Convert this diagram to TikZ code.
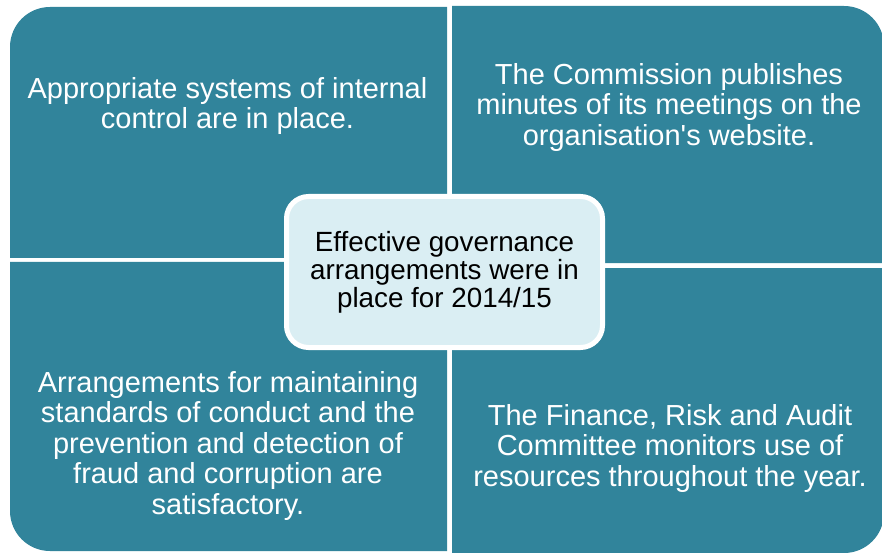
\documentclass[tikz,border=0pt]{standalone}
\usepackage{fontspec}
% plain family: keeps the straight apostrophe
\newfontfamily\arialfont{Liberation Sans}
\definecolor{quadteal}{HTML}{31849B}
\definecolor{hubfill}{HTML}{DAEEF3}
\begin{document}
\begin{tikzpicture}[x=1pt,y=1pt,
  quadrant/.style={fill=quadteal},
  quadtext/.style={text=white,align=center,inner sep=0pt,
    font=\arialfont\fontsize{29}{30.5}\selectfont},
  hub/.style={rectangle,rounded corners=22pt,draw=white,line width=5pt,
    fill=hubfill,minimum width=316pt,minimum height=151pt,inner sep=0pt,
    align=center,text=black,font=\arialfont\fontsize{27.8}{28}\selectfont}]
\useasboundingbox (0,0) rectangle (882,552);
\clip (0,0) rectangle (882,552);

% four quadrants, each rounded at its outer corner
\path[quadrant] (447,294) -- (10,294) -- (10,505)
  arc[start angle=180,end angle=90,radius=40] -- (447,545) -- cycle;
\path[quadrant] (452,289) -- (452,546) -- (844,546)
  arc[start angle=90,end angle=0,radius=40] -- (884,289) -- cycle;
\path[quadrant] (447,290) -- (10,290) -- (10,41)
  arc[start angle=180,end angle=270,radius=40] -- (447,1) -- cycle;
\path[quadrant] (452,284) -- (884,284) -- (884,39)
  arc[start angle=0,end angle=-90,radius=40] -- (452,-1) -- cycle;

% quadrant statements
\node[quadtext] (control) at (227.5,446)
  {Appropriate systems of internal\\control are in place.};
\node[quadtext] (minutes) at (669,444.5)
  {The Commission publishes\\minutes of its meetings on the\\organisation's website.};
\node[quadtext] (conduct) at (228,106.5)
  {Arrangements for maintaining\\standards of conduct and the\\prevention and detection of\\fraud and corruption are\\satisfactory.};
\node[quadtext] (audit) at (670,104)
  {The Finance, Risk and Audit\\Committee monitors use of\\resources throughout the year.};

% central conclusion
\node[hub] (governance) at (444.5,280)
  {Effective governance\\arrangements were in\\place for 2014/15};
\end{tikzpicture}
\end{document}
